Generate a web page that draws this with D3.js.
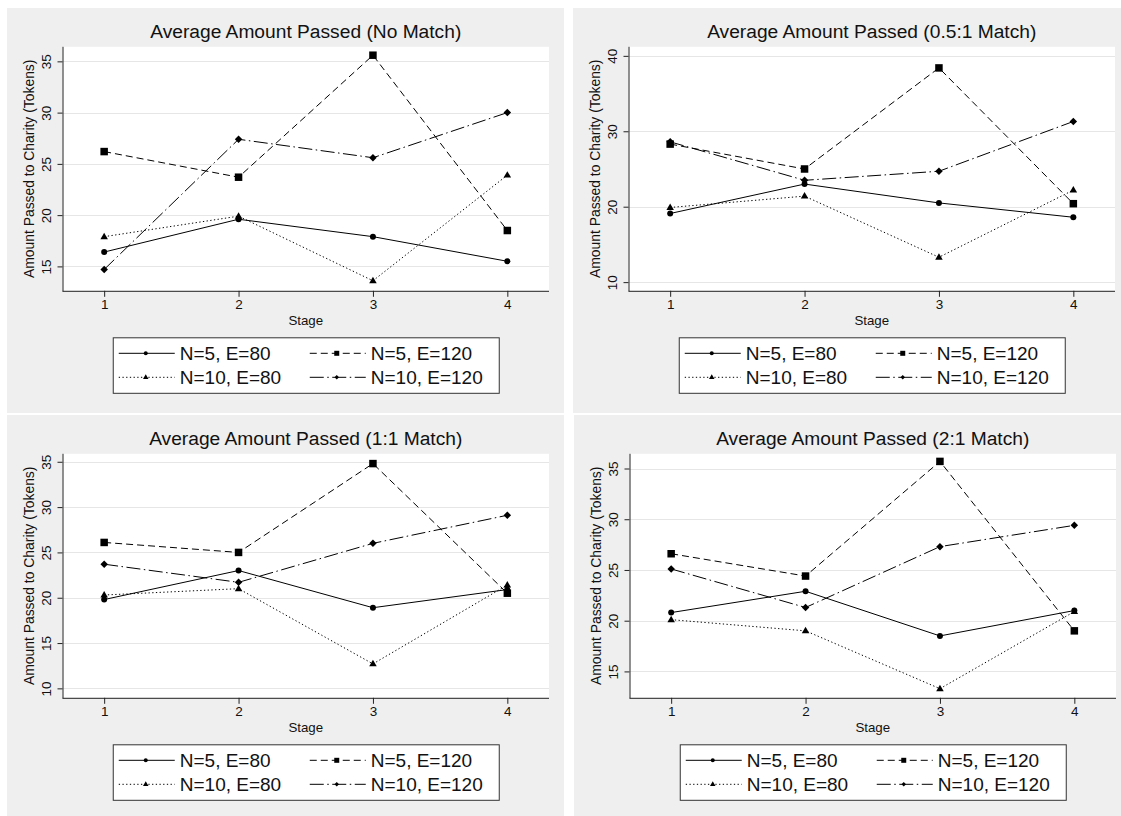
<!DOCTYPE html>
<html><head><meta charset="utf-8">
<script src="https://cdn.jsdelivr.net/npm/d3@7/dist/d3.min.js"></script>
<style>
body{margin:0;background:#fff;}
svg{display:block;font-family:"Liberation Sans",Arial,Helvetica,sans-serif;}
</style>
</head><body>
<svg id="c" width="1121" height="816"></svg>
<script>
// ---------- DATA ----------
const stages = [1, 2, 3, 4];
const seriesLabels = ["N=5, E=80", "N=5, E=120", "N=10, E=80", "N=10, E=120"];
const panelTitles = [
  "Average Amount Passed (No Match)",
  "Average Amount Passed (0.5:1 Match)",
  "Average Amount Passed (1:1 Match)",
  "Average Amount Passed (2:1 Match)"
];
const xAxisTitle = "Stage";
const yAxisTitle = "Amount Passed to Charity (Tokens)";

// No match
const noMatchN5E80   = [16.4, 19.6, 17.9, 15.5];
const noMatchN5E120  = [26.2, 23.7, 35.6, 18.5];
const noMatchN10E80  = [17.9, 19.9, 13.6, 23.9];
const noMatchN10E120 = [14.7, 27.4, 25.6, 30.0];
// 0.5:1 match
const halfN5E80   = [19.1, 23.0, 20.5, 18.6];
const halfN5E120  = [28.3, 25.0, 38.4, 20.4];
const halfN10E80  = [19.9, 21.4, 13.3, 22.2];
const halfN10E120 = [28.6, 23.5, 24.7, 31.3];
// 1:1 match
const oneN5E80   = [19.8, 23.0, 18.9, 20.9];
const oneN5E120  = [26.1, 25.0, 34.8, 20.5];
const oneN10E80  = [20.3, 21.0, 12.7, 21.4];
const oneN10E120 = [23.7, 21.7, 26.0, 29.1];
// 2:1 match
const twoN5E80   = [20.8, 22.9, 18.5, 21.0];
const twoN5E120  = [26.6, 24.4, 35.7, 19.0];
const twoN10E80  = [20.1, 19.0, 13.3, 20.9];
const twoN10E120 = [25.1, 21.3, 27.3, 29.4];

const yTicksNoMatch = [15, 20, 25, 30, 35];
const yTicksHalf    = [10, 20, 30, 40];
const yTicksOne     = [10, 15, 20, 25, 30, 35];
const yTicksTwo     = [15, 20, 25, 30, 35];

const yRangeNoMatch = [12.62, 36.42];
const yRangeHalf    = [8.85, 41.2];
const yRangeOne     = [8.96, 35.88];
const yRangeTwo     = [12.4, 36.45];
const xRange = [0.69, 4.31];

const panelSeries = [
  [noMatchN5E80, noMatchN5E120, noMatchN10E80, noMatchN10E120],
  [halfN5E80, halfN5E120, halfN10E80, halfN10E120],
  [oneN5E80, oneN5E120, oneN10E80, oneN10E120],
  [twoN5E80, twoN5E120, twoN10E80, twoN10E120]
];
const panelTicks = [yTicksNoMatch, yTicksHalf, yTicksOne, yTicksTwo];
const panelRanges = [yRangeNoMatch, yRangeHalf, yRangeOne, yRangeTwo];

// ---------- LAYOUT / STYLE ----------
const panelOrigins = [[7, 8], [573, 8], [7, 415], [574, 415]];
const PW = 557, PH = 405;
const plot = {left: 55.5, top: 38.8, width: 486.5, height: 244};
const dashes = [null, "7,4", "1.3,2.4", "14,3.5,1.5,3.5"];
const markers = ["circle", "square", "triangle", "diamond"];
const bg = "#efefef";

function markerPath(type, s) {
  // s: approximate full width in px
  const h = s / 2;
  if (type === "circle") return d3.symbol(d3.symbolCircle, Math.PI * h * h)();
  if (type === "square") return `M${-h},${-h}H${h}V${h}H${-h}Z`;
  if (type === "triangle") {
    const ht = s * 0.866;
    return `M0,${-ht * 0.62}L${h},${ht * 0.38}L${-h},${ht * 0.38}Z`;
  }
  if (type === "diamond") return `M0,${-h}L${h},0L0,${h}L${-h},0Z`;
}
const markerSize = [6, 7.5, 7.5, 7.5];
const legendMarkerSize = [4, 5, 5.5, 4.5];

const svg = d3.select("#c");
svg.append("rect").attr("width", 1121).attr("height", 816).attr("fill", "#fff");

panelTitles.forEach((title, pi) => {
  const [ox, oy] = panelOrigins[pi];
  const g = svg.append("g").attr("transform", `translate(${ox},${oy})`);
  g.append("rect").attr("width", PW).attr("height", PH).attr("fill", bg);

  const x = d3.scaleLinear().domain(xRange).range([plot.left, plot.left + plot.width]);
  const y = d3.scaleLinear().domain(panelRanges[pi]).range([plot.top + plot.height, plot.top]);

  // plot background
  g.append("rect").attr("x", plot.left).attr("y", plot.top)
    .attr("width", plot.width).attr("height", plot.height).attr("fill", "#fff");

  // gridlines
  g.append("g").selectAll("line").data(panelTicks[pi]).join("line")
    .attr("x1", plot.left).attr("x2", plot.left + plot.width)
    .attr("y1", d => Math.round(y(d)) + 0.5).attr("y2", d => Math.round(y(d)) + 0.5)
    .attr("stroke", "#e6e6e6").attr("stroke-width", 1.2);

  // y axis
  const yAxis = d3.axisLeft(y).tickValues(panelTicks[pi]).tickSize(5).tickPadding(0).tickFormat(d3.format("d"));
  const ya = g.append("g").attr("transform", `translate(${plot.left},0)`).call(yAxis);
  ya.select(".domain").attr("stroke", "#222").attr("d", `M0.5,${plot.top}V${plot.top + plot.height + 0.5}`);
  ya.selectAll(".tick line").attr("stroke", "#222");
  ya.selectAll(".tick text")
    .attr("font-size", 13.5).attr("fill", "#111")
    .attr("text-anchor", "middle").attr("x", null).attr("dy", null)
    .attr("transform", "translate(-12,0) rotate(-90)")
    .attr("y", 0);

  // x axis
  const xAxis = d3.axisBottom(x).tickValues(stages).tickSize(6).tickPadding(3).tickFormat(d3.format("d"));
  const xa = g.append("g").attr("transform", `translate(0,${plot.top + plot.height})`).call(xAxis);
  xa.select(".domain").attr("stroke", "#222").attr("d", `M${plot.left},0.5H${plot.left + plot.width}`);
  xa.selectAll(".tick line").attr("stroke", "#222");
  xa.selectAll(".tick text").attr("font-size", 13.5).attr("fill", "#111");

  const cx = plot.left + plot.width / 2;
  // title
  g.append("text").attr("x", cx).attr("y", 29.5).attr("text-anchor", "middle")
    .attr("font-size", 19.2).attr("fill", "#111").text(title);
  // axis titles
  g.append("text").attr("x", cx).attr("y", 317).attr("text-anchor", "middle")
    .attr("font-size", 13.3).attr("fill", "#111").text(xAxisTitle);
  g.append("text").attr("transform", `translate(27,${plot.top + plot.height / 2}) rotate(-90)`)
    .attr("text-anchor", "middle").attr("font-size", 13.9).attr("fill", "#111").text(yAxisTitle);

  // series
  const line = d3.line().x((d, i) => x(stages[i])).y(d => y(d));
  panelSeries[pi].forEach((vals, si) => {
    g.append("path").attr("d", line(vals)).attr("fill", "none")
      .attr("stroke", "#000").attr("stroke-width", 1)
      .attr("stroke-dasharray", dashes[si]);
  });
  panelSeries[pi].forEach((vals, si) => {
    g.append("g").selectAll("path").data(vals).join("path")
      .attr("d", markerPath(markers[si], markerSize[si]))
      .attr("transform", (d, i) => `translate(${x(stages[i])},${y(d)})`)
      .attr("fill", "#000");
  });

  // legend
  const lw = 386, lh = 55.5;
  const lx = cx - lw / 2, ly = 329.3;
  const lg = g.append("g").attr("transform", `translate(${lx},${ly})`);
  lg.append("rect").attr("x", 0.5).attr("y", 0.5).attr("width", lw).attr("height", lh)
    .attr("fill", "#fff").attr("stroke", "#333").attr("stroke-width", 1);
  const colX = [6, 197];
  const rowY = [16, 40];
  seriesLabels.forEach((lab, si) => {
    const cxl = colX[si % 2], ry = rowY[Math.floor(si / 2)];
    lg.append("line").attr("x1", cxl).attr("x2", cxl + 56).attr("y1", ry).attr("y2", ry)
      .attr("stroke", "#000").attr("stroke-width", 1).attr("stroke-dasharray", dashes[si]);
    lg.append("path").attr("d", markerPath(markers[si], legendMarkerSize[si]))
      .attr("transform", `translate(${cxl + 27},${ry})`).attr("fill", "#000");
    lg.append("text").attr("x", cxl + 61).attr("y", ry + 6.8).attr("font-size", 19)
      .attr("fill", "#111").text(lab);
  });
});
</script>
</body></html>
